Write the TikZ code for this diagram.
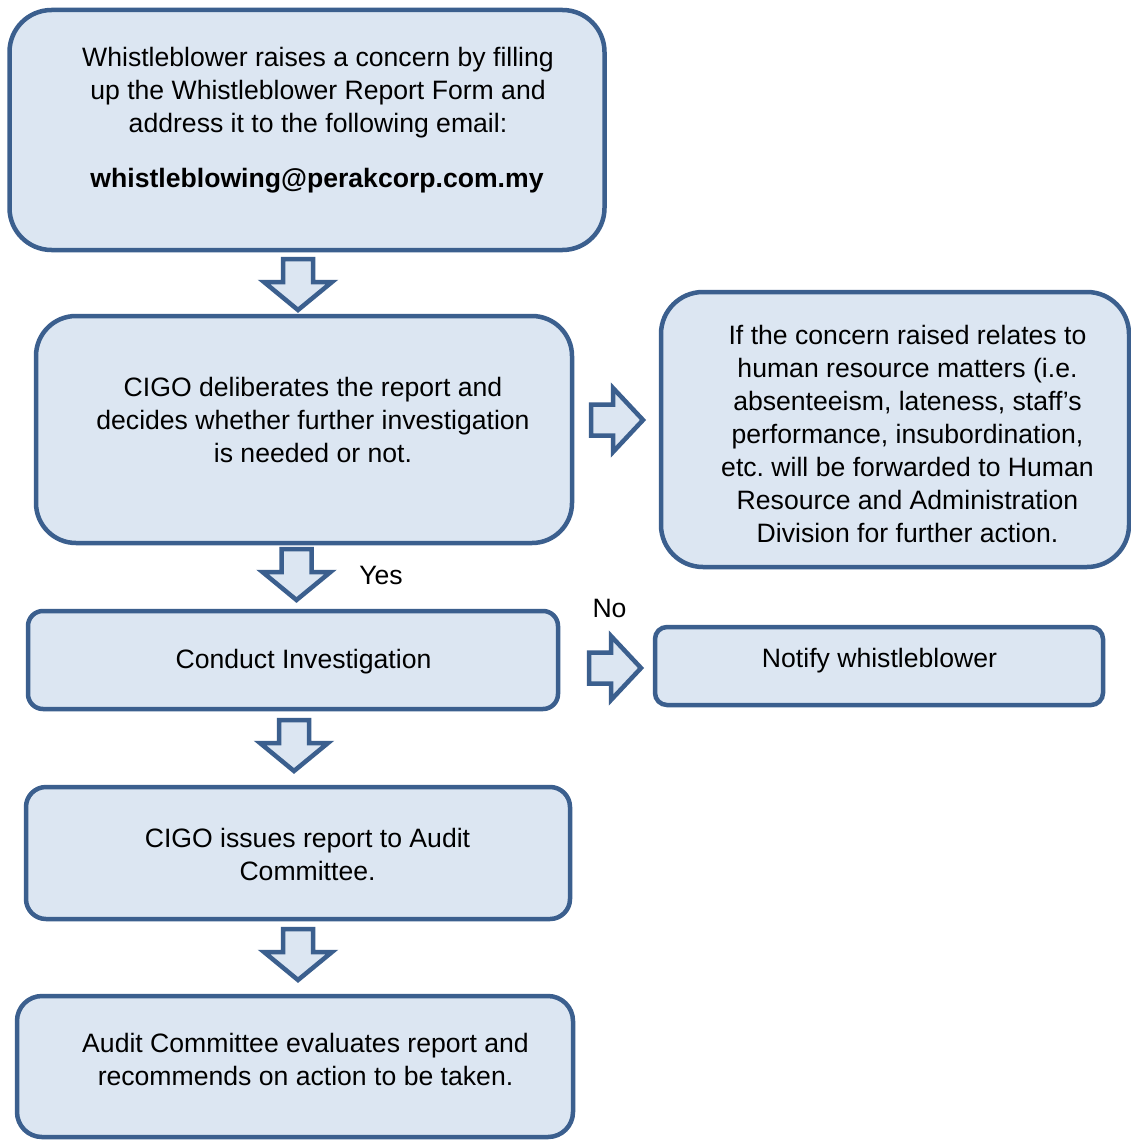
\documentclass[tikz,border=0pt]{standalone}
\usepackage{fontspec}
\setmainfont{Liberation Sans}
\frenchspacing
\definecolor{edge}{HTML}{3B5F8E}
\definecolor{boxfill}{HTML}{DCE6F2}
\begin{document}
\begin{tikzpicture}[x=1pt,y=-1pt,
  box/.style={draw=edge,fill=boxfill,line width=4.5pt,inner sep=0pt},
  txt/.style={align=center,inner sep=0pt,font=\fontsize{26.6}{33}\selectfont},
  blockarrow/.style={draw=edge,fill=boxfill,line width=4.5pt,line join=miter}]
\useasboundingbox (0,0) rectangle (1131,1140);
\fill[white] (0,0) rectangle (1131,1140);
% boxes
\node[box,rounded corners=42pt,minimum width=595pt,minimum height=240pt] (b1) at (307,130) {};
\node[box,rounded corners=40pt,minimum width=536pt,minimum height=227pt] (b2) at (304,429.5) {};
\node[box,rounded corners=42pt,minimum width=468pt,minimum height=275pt] (hr) at (895,429.5) {};
\node[box,rounded corners=15pt,minimum width=530pt,minimum height=98pt] (b3) at (293,660) {};
\node[box,rounded corners=12pt,minimum width=448pt,minimum height=78pt] (nw) at (879,666) {};
\node[box,rounded corners=20pt,minimum width=544pt,minimum height=132pt] (b4) at (298,853) {};
\node[box,rounded corners=25pt,minimum width=556pt,minimum height=141pt] (b5) at (295,1066.5) {};
% texts
\node[txt] (t1) at (318,93) {Whistleblower raises a concern by filling\\up the Whistleblower Report Form and\\address it to the following email:};
\node[txt,font=\fontsize{26.6}{33}\selectfont\bfseries] (t1b) at (317,181) {whistleblowing@perakcorp.com.my};
\node[txt] (t2) at (313,420) {CIGO deliberates the report and\\decides whether further investigation\\is needed or not.};
\node[txt] (thr) at (907.5,434) {If the concern raised relates to\\human resource matters (i.e.\\absenteeism, lateness, staff’s\\performance, insubordination,\\etc. will be forwarded to Human\\Resource and Administration\\Division for further action.};
\node[txt] (t3) at (303.5,662) {Conduct Investigation};
\node[txt] (tnw) at (879.5,661) {Notify whistleblower};
\node[txt] (t4) at (307.5,854.5) {CIGO issues report to Audit\\Committee.};
\node[txt] (t5) at (305.5,1059.5) {Audit Committee evaluates report and\\recommends on action to be taken.};
\node[txt] (yes) at (381,575) {Yes};
\node[txt] (no) at (609.5,608) {No};
% block arrows (down)
\foreach \cx/\ty in {298/259, 296.5/549, 294/720, 298/929}{
  \draw[blockarrow,shift={(\cx,\ty)}] (-15,0) -- (15,0) -- (15,23) -- (34,23) -- (0,51) -- (-34,23) -- (-15,23) -- cycle;
}
% block arrows (right)
\foreach \lx/\cy in {591/420, 589/668}{
  \draw[blockarrow,shift={(\lx,\cy)}] (0,-15.5) -- (22,-15.5) -- (22,-32) -- (52,0) -- (22,32) -- (22,15.5) -- (0,15.5) -- cycle;
}
\end{tikzpicture}
\end{document}
